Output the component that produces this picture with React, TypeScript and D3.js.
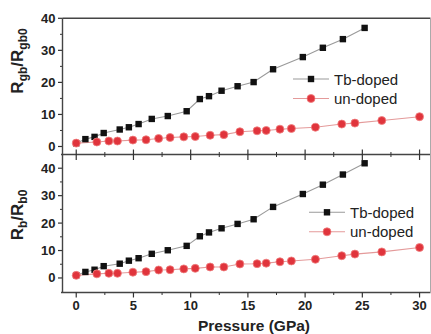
import React from "react";
import * as d3 from "d3";

const tbPressure = [0, 0.8, 1.6, 2.4, 3.8, 4.6, 5.45, 6.6, 8.0, 9.65, 10.8, 11.6, 12.7, 14.1, 15.5, 17.2, 19.8, 21.55, 23.3, 25.2];
const tbTop = [1.0, 2.3, 3.0, 4.2, 5.3, 6.0, 7.0, 8.6, 9.5, 11.0, 14.8, 15.7, 17.4, 18.8, 20.1, 24.1, 27.9, 30.8, 33.5, 37.0];
const tbBottom = [1.0, 2.2, 3.0, 4.3, 5.2, 6.3, 7.2, 8.8, 10.1, 11.7, 15.2, 16.6, 18.1, 19.7, 21.4, 25.9, 30.6, 34.0, 37.7, 41.8];

const unPressure = [0, 1.8, 2.85, 3.6, 4.95, 6.1, 7.2, 8.2, 9.4, 10.4, 11.7, 12.9, 14.3, 15.8, 16.6, 17.8, 18.8, 20.9, 23.2, 24.35, 26.7, 30.0];
const unTop = [1.05, 1.4, 1.7, 1.7, 2.0, 2.1, 2.5, 2.8, 3.0, 3.1, 3.5, 3.7, 4.6, 4.9, 5.0, 5.4, 5.6, 6.0, 7.0, 7.3, 8.1, 9.3];
const unBottom = [0.95, 1.5, 1.7, 1.7, 2.1, 2.3, 2.9, 3.0, 3.3, 3.5, 4.0, 4.0, 5.1, 5.2, 5.4, 5.9, 6.2, 6.8, 8.1, 8.7, 9.5, 11.1];

const xTicks = [0, 5, 10, 15, 20, 25, 30];
const xMinor = [2.5, 7.5, 12.5, 17.5, 22.5, 27.5];
const yTicks = [0, 10, 20, 30, 40];
const yMinor = [5, 15, 25, 35];
const seriesNames = ["Tb-doped", "un-doped"];

const FONT = "'Liberation Sans', Arial, sans-serif";
const RED = "#e0343c";
const RED_LINE = "#e49a9a";
const GRAY_LINE = "#9a9a9a";

export default function App() {
  const W = 431, H = 334;
  const left = 62.5, right = 430.5;
  const topY = 18.3, midY = 154.5, botY = 292.5;
  const x = d3.scaleLinear().domain([-1.2, 31]).range([left, 431]);
  const yTop = d3.scaleLinear().domain([-2.5, 40]).range([midY, topY]);
  const yBot = d3.scaleLinear().domain([-5.3, 45]).range([botY, midY]);

  const panel = (
    y: d3.ScaleLinear<number, number>,
    tb: number[],
    un: number[],
    key: string,
    legendX: number,
    legendY: number
  ) => {
    const lineTb = d3.line<number>().x((_, i) => x(tbPressure[i])).y((d) => y(d));
    const lineUn = d3.line<number>().x((_, i) => x(unPressure[i])).y((d) => y(d));
    return (
      <g key={key}>
        {yTicks.map((t) => (
          <g key={"yt" + t}>
            <line x1={left - 4.5} x2={left} y1={y(t)} y2={y(t)} stroke="#333" strokeWidth={1.2} />
            <text x={left - 7} y={y(t) + 4.5} textAnchor="end" fontFamily={FONT} fontWeight="bold" fontSize={13} fill="#222">
              {t}
            </text>
          </g>
        ))}
        {yMinor.map((t) => (
          <line key={"ym" + t} x1={left - 2.5} x2={left} y1={y(t)} y2={y(t)} stroke="#333" strokeWidth={1} />
        ))}
        <path d={lineUn(un) || ""} fill="none" stroke={RED_LINE} strokeWidth={1.1} />
        <path d={lineTb(tb) || ""} fill="none" stroke={GRAY_LINE} strokeWidth={1.1} />
        {tb.map((v, i) => (
          <rect key={"t" + i} x={x(tbPressure[i]) - 3.2} y={y(v) - 3.2} width={6.4} height={6.4} fill="#111" />
        ))}
        {un.map((v, i) => (
          <circle key={"u" + i} cx={x(unPressure[i])} cy={y(v)} r={4} fill={RED} stroke="#f08080" strokeWidth={0.8} />
        ))}
        {/* legend */}
        <line x1={legendX} x2={legendX + 36} y1={legendY} y2={legendY} stroke={GRAY_LINE} strokeWidth={1.1} />
        <rect x={legendX + 18 - 3.2} y={legendY - 3.2} width={6.4} height={6.4} fill="#111" />
        <text x={legendX + 41} y={legendY + 5.5} fontFamily={FONT} fontSize={15} fill="#222">
          {seriesNames[0]}
        </text>
        <line x1={legendX} x2={legendX + 36} y1={legendY + 19.5} y2={legendY + 19.5} stroke={RED_LINE} strokeWidth={1.1} />
        <circle cx={legendX + 18} cy={legendY + 19.5} r={4} fill={RED} stroke="#f08080" strokeWidth={0.8} />
        <text x={legendX + 41} y={legendY + 19.5 + 5.5} fontFamily={FONT} fontSize={15} fill="#222">
          {seriesNames[1]}
        </text>
      </g>
    );
  };

  return (
    <svg width={W} height={H} style={{ position: "absolute", left: 0, top: 0, background: "#fff" }}>
      <rect width={W} height={H} fill="#fff" />
      {panel(yTop, tbTop, unTop, "top", 293, 79)}
      {panel(yBot, tbBottom, unBottom, "bot", 309, 212.3)}
      {/* frame lines */}
      <line x1={left} x2={right} y1={topY} y2={topY} stroke="#444" strokeWidth={1.4} />
      <line x1={left - 1.5} x2={right} y1={midY} y2={midY} stroke="#444" strokeWidth={1.4} />
      <line x1={left - 1.5} x2={right} y1={botY} y2={botY} stroke="#444" strokeWidth={1.4} />
      <line x1={left} x2={left} y1={topY} y2={botY} stroke="#444" strokeWidth={1.4} />
      <line x1={right} x2={right} y1={topY} y2={botY} stroke="#aaa" strokeWidth={1} />
      {/* x ticks on middle axis (both directions) */}
      {xTicks.map((t) => (
        <line key={"mx" + t} x1={x(t)} x2={x(t)} y1={midY - 5} y2={midY + 5.5} stroke="#333" strokeWidth={1.2} />
      ))}
      {xMinor.map((t) => (
        <line key={"mm" + t} x1={x(t)} x2={x(t)} y1={midY - 2.5} y2={midY + 2.5} stroke="#333" strokeWidth={1} />
      ))}
      {/* bottom x axis */}
      {xTicks.map((t) => (
        <g key={"bx" + t}>
          <line x1={x(t)} x2={x(t)} y1={botY} y2={botY + 5} stroke="#333" strokeWidth={1.2} />
          <text x={x(t)} y={botY + 17.5} textAnchor="middle" fontFamily={FONT} fontWeight="bold" fontSize={13} fill="#222">
            {t}
          </text>
        </g>
      ))}
      {xMinor.map((t) => (
        <line key={"bm" + t} x1={x(t)} x2={x(t)} y1={botY} y2={botY + 2.5} stroke="#333" strokeWidth={1} />
      ))}
      <text x={254} y={331} textAnchor="middle" fontFamily={FONT} fontWeight="bold" fontSize={15.5} fill="#222">
        Pressure (GPa)
      </text>
      {/* y axis titles */}
      <text transform="translate(23,61) rotate(-90)" textAnchor="middle" fontFamily={FONT} fontWeight="bold" fontSize={17} fill="#222">
        R<tspan fontSize={12} dy={4}>gb</tspan>
        <tspan dy={-4}>/R</tspan>
        <tspan fontSize={12} dy={4}>gb0</tspan>
      </text>
      <text transform="translate(23,215) rotate(-90)" textAnchor="middle" fontFamily={FONT} fontWeight="bold" fontSize={17} fill="#222">
        R<tspan fontSize={12} dy={4}>b</tspan>
        <tspan dy={-4}>/R</tspan>
        <tspan fontSize={12} dy={4}>b0</tspan>
      </text>
    </svg>
  );
}
